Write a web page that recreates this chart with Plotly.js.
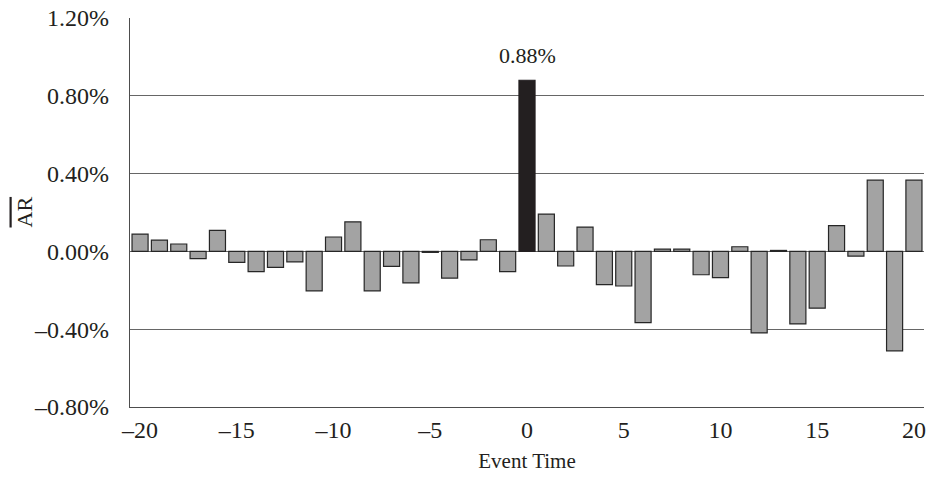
<!DOCTYPE html>
<html>
<head>
<meta charset="utf-8">
<script src="https://cdn.plot.ly/plotly-3.0.1.min.js"></script>
<style>html,body{margin:0;padding:0;background:#fff;}#chart{width:930px;height:477px;}</style>
</head>
<body>
<div id="chart"></div>
<script>
// Event time (days relative to event)
var eventTime = [-20,-19,-18,-17,-16,-15,-14,-13,-12,-11,-10,-9,-8,-7,-6,-5,-4,-3,-2,-1,0,1,2,3,4,5,6,7,8,9,10,11,12,13,14,15,16,17,18,19,20];
// Average abnormal return, in percent
var avgAR = [0.089,0.058,0.038,-0.037,0.108,-0.056,-0.104,-0.082,-0.054,-0.203,0.074,0.152,-0.203,-0.077,-0.162,-0.005,-0.137,-0.044,0.060,-0.104,0.88,0.192,-0.075,0.125,-0.171,-0.178,-0.366,0.012,0.012,-0.120,-0.135,0.024,-0.419,0.005,-0.373,-0.292,0.133,-0.024,0.366,-0.511,0.366];
var yTicks = [-0.8,-0.4,0,0.4,0.8,1.2];
var xTicks = [-20,-15,-10,-5,0,5,10,15,20];
var highlightDay = 0;
var labelText = "0.88%";
var yTitle = '<span style="text-decoration:overline">AR</span>';

var fills = eventTime.map(function(t){ return t === highlightDay ? '#231f20' : '#a3a3a3'; });
var lines = eventTime.map(function(t){ return t === highlightDay ? '#231f20' : '#262626'; });

var FONT = 'Liberation Serif, Times New Roman, serif';

var trace = {
  type: 'bar',
  x: eventTime,
  y: avgAR,
  marker: {color: fills, line: {color: lines, width: 1.2}},
  hoverinfo: 'x+y'
};

var hi = eventTime.indexOf(highlightDay);

var layout = {
  width: 930, height: 477,
  margin: {l: 130, r: 6, t: 18, b: 70},
  paper_bgcolor: '#fff', plot_bgcolor: '#fff',
  showlegend: false,
  bargap: 0.17,
  font: {family: FONT, color: '#231f20', size: 22},
  xaxis: {
    range: [-20.52, 20.52],
    tickvals: xTicks,
    ticktext: xTicks.map(function(v){ return v < 0 ? '\u2013' + Math.abs(v) : String(v); }),
    showgrid: false, zeroline: false,
    showline: true, linecolor: '#4d4d4d', linewidth: 1.3,
    ticks: '', ticklabelstandoff: 1,
    tickfont: {family: FONT, size: 24, color: '#231f20'},
    title: {text: 'Event Time', font: {family: FONT, size: 21, color: '#231f20'}, standoff: 11}
  },
  yaxis: {
    range: [-0.8, 1.2],
    tickvals: yTicks,
    ticktext: yTicks.map(function(v){ return (v < 0 ? '\u2013' : '') + Math.abs(v).toFixed(2) + '%'; }),
    showgrid: true, gridcolor: '#666666', gridwidth: 1.3,
    zeroline: true, zerolinecolor: '#666666', zerolinewidth: 1.3,
    showline: true, linecolor: '#4d4d4d', linewidth: 1.3,
    ticks: '', ticklabelstandoff: 15,
    tickfont: {family: FONT, size: 24, color: '#231f20'}
  },
  annotations: [{
    x: eventTime[hi], y: avgAR[hi], xref: 'x', yref: 'y',
    text: labelText, showarrow: false, yanchor: 'bottom', yshift: 10,
    font: {family: FONT, size: 22, color: '#231f20'}
  }, {
    x: (24 - 130) / 794, y: 0.5, xref: 'paper', yref: 'paper',
    xanchor: 'center', yanchor: 'middle', textangle: -90,
    text: yTitle, showarrow: false,
    font: {family: FONT, size: 22, color: '#231f20'}
  }]
};

Plotly.newPlot('chart', [trace], layout, {displayModeBar: false, staticPlot: true});
</script>
</body>
</html>
